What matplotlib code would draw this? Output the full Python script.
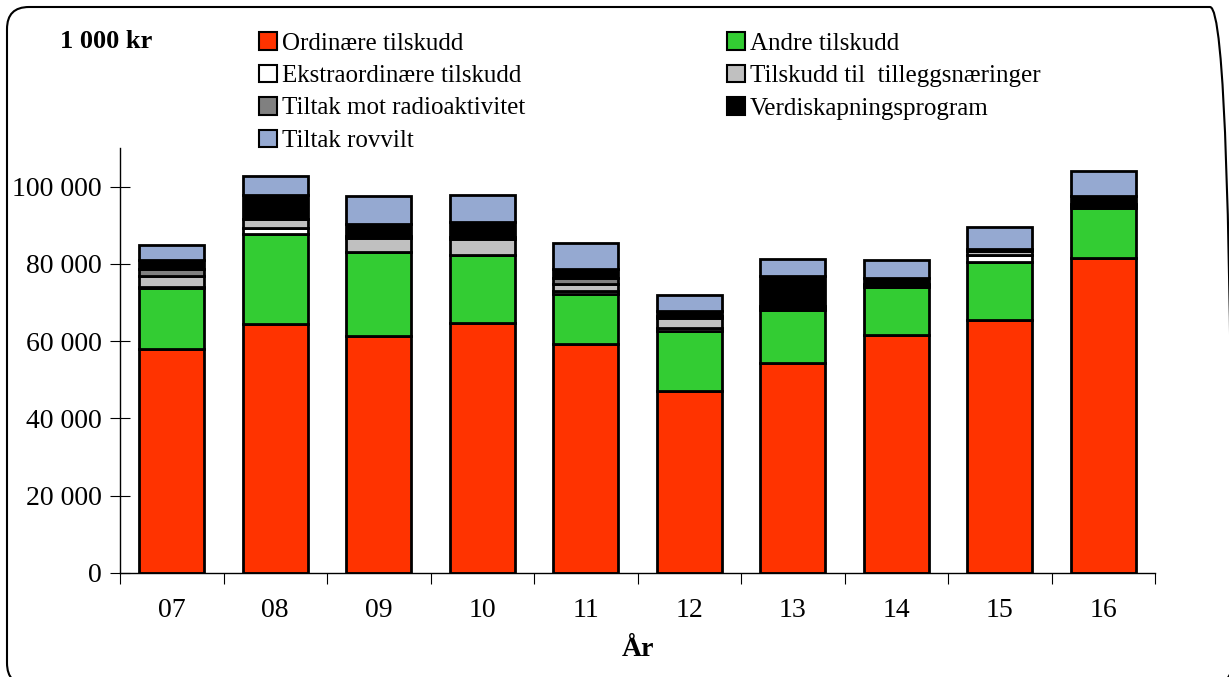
import numpy as np
import matplotlib.pyplot as plt
from matplotlib.patches import FancyBboxPatch, Patch
from matplotlib.ticker import FuncFormatter

plt.rcParams['font.family'] = ['Liberation Serif', 'DejaVu Serif']

# data (1 000 kr)
years = ['07', '08', '09', '10', '11', '12', '13', '14', '15', '16']
ordinaere = [58000, 64500, 61400, 64800, 59300, 47100, 54400, 61700, 65400, 81500]
andre = [15800, 23300, 21600, 17400, 12900, 15600, 13700, 12300, 15200, 13100]
ekstra = [300, 1500, 0, 0, 800, 800, 500, 0, 1700, 500]
tillegg = [2700, 2400, 3600, 4300, 1700, 2500, 600, 500, 1000, 500]
radio = [1900, 0, 500, 500, 1700, 500, 0, 400, 0, 0]
verdi = [2200, 6100, 3300, 3900, 2300, 1300, 7700, 1500, 600, 1900]
rovvilt = [4100, 4900, 7300, 7000, 6600, 4100, 4300, 4600, 5600, 6500]

series = [ordinaere, andre, ekstra, tillegg, radio, verdi, rovvilt]
names = ['Ordinære tilskudd', 'Andre tilskudd', 'Ekstraordinære tilskudd',
         'Tilskudd til  tilleggsnæringer', 'Tiltak mot radioaktivitet',
         'Verdiskapningsprogram', 'Tiltak rovvilt']
colors = ['#FF3300', '#33CC33', '#FFFFFF', '#C0C0C0', '#808080', '#000000', '#95A9D1']

fig = plt.figure(figsize=(12.29, 6.77), dpi=100)
ax = fig.add_axes([120/1229, 1 - 573/677, 1035/1229, (573 - 148)/677])

x = np.arange(len(years)) + 0.5
bottom = np.zeros(len(years))
for vals, c in zip(series, colors):
    ax.bar(x, vals, 0.63, bottom=bottom, color=c, edgecolor='black', linewidth=2)
    bottom += np.array(vals)

ax.set_xlim(0, len(years))
ax.set_ylim(0, 110000)
ax.set_yticks(np.arange(0, 100001, 20000))
ax.yaxis.set_major_formatter(FuncFormatter(lambda v, p: f'{int(v):,}'.replace(',', ' ')))
ax.set_xticks(np.arange(0, len(years) + 1))
ax.set_xticklabels([])
ax.set_xticks(x, minor=True)
ax.set_xticklabels(years, minor=True)
ax.tick_params(axis='x', which='minor', length=0, labelsize=20, pad=18)
ax.tick_params(axis='x', which='major', length=8, direction='out')
ax.tick_params(axis='y', length=14, direction='inout', labelsize=20, pad=6)
for s in ['top', 'right']:
    ax.spines[s].set_visible(False)
ax.spines['left'].set_linewidth(1)
ax.spines['bottom'].set_linewidth(1)
ax.set_xlabel('År', fontsize=20, fontweight='bold', labelpad=10)

fig.text(60/1229, 1 - 41/677, '1 000 kr', fontsize=19, fontweight='bold', va='center')

handles = [Patch(facecolor=c, edgecolor='black', linewidth=1.5) for c in colors]
order1 = [0, 2, 4, 6]
order2 = [1, 3, 5]
leg_kw = dict(frameon=False, fontsize=18, handlelength=0.7, handleheight=0.7,
              handletextpad=0.2, labelspacing=0.4, borderaxespad=0, borderpad=0)
fig.legend([handles[i] for i in order1], [names[i] for i in order1],
           loc='upper left', bbox_to_anchor=(259/1229, 1 - 32/677), **leg_kw)
fig.legend([handles[i] for i in order2], [names[i] for i in order2],
           loc='upper left', bbox_to_anchor=(727/1229, 1 - 32/677), **leg_kw)

# rounded frame round the whole chart, drawn in pixels
box = FancyBboxPatch((7, -8), 1225, 678, transform=None,
                     boxstyle='round,pad=0,rounding_size=22', facecolor='none',
                     edgecolor='black', linewidth=1.5)
fig.patches.append(box)

fig.savefig('out.png', dpi=100)
